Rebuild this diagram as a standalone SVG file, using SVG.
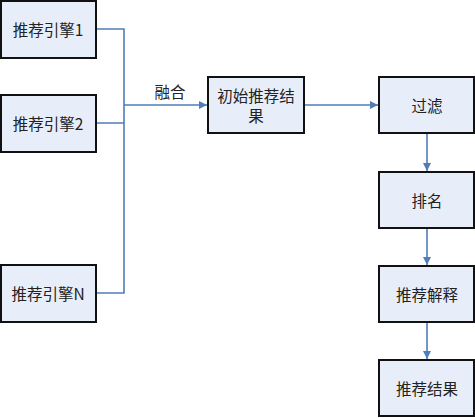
<svg xmlns="http://www.w3.org/2000/svg" width="475" height="418" viewBox="0 0 475 418">
<defs>
<style>
.box{fill:#e8eef9;stroke:#111;stroke-width:2}
.t{font-family:"Noto Sans CJK SC","Liberation Sans",sans-serif;font-size:15.5px;fill:#222;text-anchor:middle;dominant-baseline:central}
.c{fill:none;stroke:#4f7db8;stroke-width:1.6}
</style>
<marker id="ah" viewBox="0 0 10 10" refX="10" refY="5" markerWidth="8" markerHeight="8" markerUnits="userSpaceOnUse" orient="auto"><path d="M0,0L10,5L0,10z" fill="#4f7db8"/></marker>
</defs>
<rect width="475" height="418" fill="#fff"/>
<g id="connectors">
<path class="c" d="M96,29H124V293H96M96,123H124"/>
<path class="c" d="M124,105H207" marker-end="url(#ah)"/>
<path class="c" d="M304,105H378" marker-end="url(#ah)"/>
<path class="c" d="M427,133V171" marker-end="url(#ah)"/>
<path class="c" d="M427,228V265" marker-end="url(#ah)"/>
<path class="c" d="M427,322V359" marker-end="url(#ah)"/>
<text class="t" x="170" y="91">融合</text>
</g>
<g id="engine1"><rect class="box" x="1" y="1" width="95" height="57"/><text class="t" x="48" y="29">推荐引擎1</text></g>
<g id="engine2"><rect class="box" x="1" y="95" width="95" height="57"/><text class="t" x="48" y="123">推荐引擎2</text></g>
<g id="engineN"><rect class="box" x="1" y="265" width="95" height="57"/><text class="t" x="48" y="293">推荐引擎N</text></g>
<g id="initial"><rect class="box" x="208" y="77" width="96" height="56"/><text class="t" x="256" y="95">初始推荐结</text><text class="t" x="256" y="115">果</text></g>
<g id="filter"><rect class="box" x="379" y="77" width="95" height="56"/><text class="t" x="427" y="105">过滤</text></g>
<g id="rank"><rect class="box" x="379" y="172" width="95" height="56"/><text class="t" x="427" y="200">排名</text></g>
<g id="explain"><rect class="box" x="379" y="266" width="95" height="56"/><text class="t" x="427" y="294">推荐解释</text></g>
<g id="result"><rect class="box" x="379" y="360" width="95" height="56"/><text class="t" x="427" y="388">推荐结果</text></g>
</svg>
